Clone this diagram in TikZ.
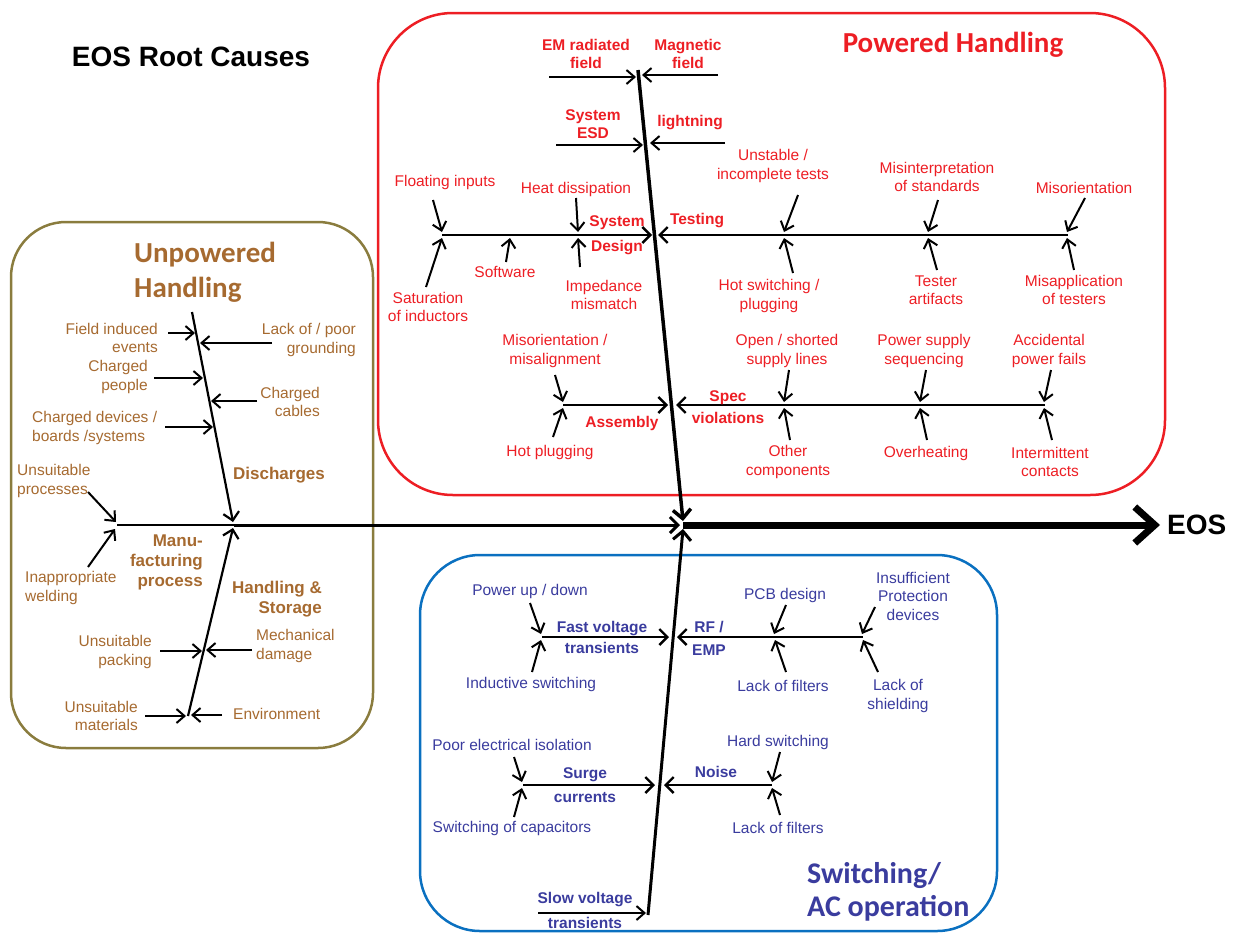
\documentclass[tikz,border=0pt]{standalone}
\usepackage{fontspec}
\setmainfont{Liberation Sans}
\newfontfamily\titlefont{Carlito}
\usetikzlibrary{arrows.meta}
\definecolor{brn}{RGB}{166,106,48}
\definecolor{olv}{RGB}{138,124,62}
\definecolor{rd}{RGB}{237,30,36}
\definecolor{bltx}{RGB}{58,60,158}
\definecolor{blbx}{RGB}{10,112,192}
\tikzset{
  ar/.style={line width=2pt,-{Straight Barb[length=8pt,width=14pt]}},
  hl/.style={line width=2.4pt,-{Straight Barb[length=8pt,width=16pt]}},
  t/.style={inner sep=0pt,align=center,font=\fontsize{15.5}{18.5}\selectfont},
  tb/.style={inner sep=0pt,align=center,font=\bfseries\fontsize{15.5}{18.5}\selectfont},
  tbb/.style={inner sep=0pt,align=center,font=\bfseries\fontsize{17}{20}\selectfont},
  ttl/.style={inner sep=0pt,align=center,font=\titlefont\bfseries\fontsize{29}{35}\selectfont},
  boxline/.style={line width=2.5pt},
}
\begin{document}
\begin{tikzpicture}[x=1pt,y=-1pt]
\useasboundingbox (0,0) rectangle (1242,935);
% ---------- boxes ----------
\draw[boxline,olv,rounded corners=55pt] (11,222) rectangle (373,748);
\draw[boxline,rd,rounded corners=75pt] (378,13) rectangle (1165,495);
\draw[boxline,blbx,rounded corners=60pt] (420,555) rectangle (997,931);
% ---------- titles ----------
\node[inner sep=0pt,font=\bfseries\fontsize{28}{32}\selectfont] (title) at (191,57) {EOS Root Causes};
\node[ttl,text=brn,align=left,anchor=west] (tunp) at (134,272) {Unpowered\\Handling};
\node[ttl,text=rd] (tpow) at (953,45) {Powered Handling};
\node[ttl,text=bltx,align=left,anchor=west,font=\titlefont\bfseries\fontsize{30}{33}\selectfont] (tsw) at (807,892) {Switching/\\AC operation};
\node[inner sep=0pt,font=\bfseries\fontsize{28}{32}\selectfont,anchor=west] (eos) at (1167,525) {EOS};
% ---------- main spine ----------
\coordinate (mst) at (117,525);
\coordinate (j1) at (234,525);
\coordinate (j2a) at (680,525);
\coordinate (j2) at (683,525);
\coordinate (eosE) at (1160,525);
\draw[line width=2pt] (mst) -- (j1);
\draw[line width=3pt,-{Straight Barb[length=8pt,width=16pt]}] (j1) -- (j2a);
\draw[line width=7pt,-{Straight Barb[length=20pt,width=36pt]}] (j2) -- (eosE);
% ---------- unpowered: spines ----------
\coordinate (D0) at (192,312); \coordinate (DT) at (233,522);
\coordinate (H0) at (188,716); \coordinate (HT) at (233,528);
\draw[line width=2.2pt,-{Straight Barb[length=8pt,width=16pt]}] (D0) -- (DT);
\draw[line width=2.2pt,-{Straight Barb[length=8pt,width=16pt]}] (H0) -- (HT);
% unpowered labels
\node[t,text=brn,anchor=east,align=right] (lfie) at (158,338) {Field induced\\events};
\node[t,text=brn,anchor=east,align=right] (llac) at (356,340) {Lack of / poor\\grounding};
\node[t,text=brn,anchor=east,align=right] (lchp) at (148,377) {Charged\\people};
\node[t,text=brn,anchor=east,align=right] (lchc) at (320,402) {Charged\\cables};
\node[t,text=brn,anchor=west,align=left] (lchd) at (32,428) {Charged devices /\\boards /systems};
\node[tbb,text=brn,anchor=west] (ldis) at (233,475) {Discharges};
\node[t,text=brn,anchor=west,align=left] (lunpr) at (17,481) {Unsuitable\\processes};
\node[t,text=brn,anchor=west,align=left] (linw) at (25,588) {Inappropriate\\welding};
\node[tbb,text=brn,anchor=east,align=right] (lman) at (203,562) {Manu-\\facturing\\process};
\node[tbb,text=brn,anchor=east,align=right] (lhas) at (322,599) {Handling \&\\Storage};
\node[t,text=brn,anchor=east,align=right] (lunpa) at (152,652) {Unsuitable\\packing};
\node[t,text=brn,anchor=west,align=left] (lmec) at (256,646) {Mechanical\\damage};
\node[t,text=brn,anchor=east,align=right] (lunma) at (138,716) {Unsuitable\\materials};
\node[t,text=brn,anchor=west] (lenv) at (233,714) {Environment};
% unpowered arrows
\coordinate (a1s) at (168,333); \coordinate (a1e) at (195,333);
\coordinate (a2s) at (272,343); \coordinate (a2e) at (200,343);
\coordinate (a3s) at (154,378); \coordinate (a3e) at (203,378);
\coordinate (a4s) at (257,401); \coordinate (a4e) at (211,401);
\coordinate (a5s) at (165,427); \coordinate (a5e) at (213,427);
\coordinate (a6s) at (88,492);  \coordinate (a6e) at (116,522);
\coordinate (a7s) at (88,567);  \coordinate (a7e) at (115,529);
\coordinate (a8s) at (160,651); \coordinate (a8e) at (202,651);
\coordinate (a9s) at (252,650); \coordinate (a9e) at (206,650);
\coordinate (a10s) at (145,716); \coordinate (a10e) at (186,716);
\coordinate (a11s) at (222,715); \coordinate (a11e) at (191,715);
\foreach \i in {1,...,11} {\draw[ar] (a\i s) -- (a\i e);}
% ---------- powered ----------
\coordinate (P0) at (638,70); \coordinate (PT) at (683,521);
\draw[line width=3.5pt,-{Straight Barb[length=9pt,width=18pt]}] (P0) -- (PT);
% sub-lines
\coordinate (sd0) at (442,235); \coordinate (sd1) at (652,235);
\coordinate (te0) at (1068,235); \coordinate (te1) at (658,235);
\coordinate (as0) at (563,405); \coordinate (as1) at (668,405);
\coordinate (sv0) at (1045,405); \coordinate (sv1) at (676,405);
\draw[hl] (sd0) -- (sd1);
\draw[hl] (te0) -- (te1);
\draw[hl] (as0) -- (as1);
\draw[hl] (sv0) -- (sv1);
% powered arrows
\coordinate (b1s) at (549,77);  \coordinate (b1e) at (636,77);
\coordinate (b2s) at (718,75);  \coordinate (b2e) at (642,75);
\coordinate (b3s) at (556,145); \coordinate (b3e) at (643,145);
\coordinate (b4s) at (725,143); \coordinate (b4e) at (650,143);
\coordinate (b5s) at (433,200); \coordinate (b5e) at (442,232);
\coordinate (b6s) at (426,287); \coordinate (b6e) at (442,238);
\coordinate (b7s) at (506,262); \coordinate (b7e) at (510,238);
\coordinate (b8s) at (576,198); \coordinate (b8e) at (578,232);
\coordinate (b9s) at (580,267); \coordinate (b9e) at (578,238);
\coordinate (b10s) at (798,195); \coordinate (b10e) at (784,232);
\coordinate (b11s) at (793,273); \coordinate (b11e) at (784,238);
\coordinate (b12s) at (938,200); \coordinate (b12e) at (928,232);
\coordinate (b13s) at (937,270); \coordinate (b13e) at (928,238);
\coordinate (b14s) at (1085,198); \coordinate (b14e) at (1067,232);
\coordinate (b15s) at (1074,270); \coordinate (b15e) at (1067,238);
\coordinate (b16s) at (555,375); \coordinate (b16e) at (563,402);
\coordinate (b17s) at (553,437); \coordinate (b17e) at (563,408);
\coordinate (b18s) at (789,370); \coordinate (b18e) at (784,402);
\coordinate (b19s) at (790,440); \coordinate (b19e) at (784,408);
\coordinate (b20s) at (926,370); \coordinate (b20e) at (920,402);
\coordinate (b21s) at (927,440); \coordinate (b21e) at (920,408);
\coordinate (b22s) at (1051,370); \coordinate (b22e) at (1044,402);
\coordinate (b23s) at (1052,440); \coordinate (b23e) at (1044,408);
\foreach \i in {1,...,23} {\draw[ar] (b\i s) -- (b\i e);}
% powered labels
\node[tb,text=rd] (lem) at (586,54) {EM radiated\\field};
\node[tb,text=rd] (lmag) at (688,54) {Magnetic\\field};
\node[tb,text=rd] (lesd) at (593,124) {System\\ESD};
\node[tb,text=rd] (llig) at (690,123) {lightning};
\node[tb,text=rd,font=\bfseries\fontsize{15.5}{25}\selectfont] (lsd) at (617,235) {System\\Design};
\node[tb,text=rd] (ltes) at (697,221) {Testing};
\node[tb,text=rd] (lass) at (622,423) {Assembly};
\node[tb,text=rd,font=\bfseries\fontsize{15.5}{22}\selectfont] (lspv) at (728,407) {Spec\\violations};
\node[t,text=rd] (lflo) at (445,182) {Floating inputs};
\node[t,text=rd] (lhea) at (576,189) {Heat dissipation};
\node[t,text=rd] (lsof) at (505,272) {Software};
\node[t,text=rd] (lsat) at (428,307) {Saturation\\of inductors};
\node[t,text=rd] (limp) at (604,295) {Impedance\\mismatch};
\node[t,text=rd] (luns) at (773,166) {Unstable /\\incomplete tests};
\node[t,text=rd] (lhot) at (769,296) {Hot switching /\\plugging};
\node[t,text=rd] (lmis) at (937,177) {Misinterpretation\\of standards};
\node[t,text=rd] (ltar) at (936,290) {Tester\\artifacts};
\node[t,text=rd] (lmor) at (1084,188) {Misorientation};
\node[t,text=rd] (lmap) at (1074,290) {Misapplication\\of testers};
\node[t,text=rd] (lmma) at (555,351) {Misorientation /\\misalignment};
\node[t,text=rd] (lhpl) at (550,452) {Hot plugging};
\node[t,text=rd] (lops) at (787,351) {Open / shorted\\supply lines};
\node[t,text=rd] (loth) at (788,462) {Other\\components};
\node[t,text=rd] (lpss) at (924,351) {Power supply\\sequencing};
\node[t,text=rd] (lovh) at (926,453) {Overheating};
\node[t,text=rd] (lacc) at (1049,351) {Accidental\\power fails};
\node[t,text=rd] (lint) at (1050,462) {Intermittent\\contacts};
% ---------- switching ----------
\coordinate (S0) at (648,915); \coordinate (ST) at (683,529);
\draw[line width=3pt,-{Straight Barb[length=9pt,width=18pt]}] (S0) -- (ST);
\coordinate (fv0) at (542,637); \coordinate (fv1) at (669,637);
\coordinate (rf0) at (863,637); \coordinate (rf1) at (677,637);
\coordinate (sc0) at (523,785); \coordinate (sc1) at (655,785);
\coordinate (no0) at (772,785); \coordinate (no1) at (664,785);
\draw[hl] (fv0) -- (fv1);
\draw[hl] (rf0) -- (rf1);
\draw[hl] (sc0) -- (sc1);
\draw[hl] (no0) -- (no1);
\coordinate (c1s) at (530,603); \coordinate (c1e) at (541,634);
\coordinate (c2s) at (532,672); \coordinate (c2e) at (541,640);
\coordinate (c3s) at (786,605); \coordinate (c3e) at (774,634);
\coordinate (c4s) at (786,672); \coordinate (c4e) at (775,640);
\coordinate (c5s) at (875,607); \coordinate (c5e) at (862,634);
\coordinate (c6s) at (878,672); \coordinate (c6e) at (863,640);
\coordinate (c7s) at (514,757); \coordinate (c7e) at (522,782);
\coordinate (c8s) at (514,817); \coordinate (c8e) at (522,788);
\coordinate (c9s) at (780,752); \coordinate (c9e) at (772,782);
\coordinate (c10s) at (780,815); \coordinate (c10e) at (772,788);
\coordinate (c11s) at (538,913); \coordinate (c11e) at (646,913);
\foreach \i in {1,...,11} {\draw[ar] (c\i s) -- (c\i e);}
% switching labels
\node[tb,text=bltx,font=\bfseries\fontsize{15.5}{21}\selectfont] (lfvt) at (602,637) {Fast voltage\\transients};
\node[tb,text=bltx,font=\bfseries\fontsize{15.5}{23}\selectfont] (lrf) at (709,638) {RF /\\EMP};
\node[tb,text=bltx,font=\bfseries\fontsize{15.5}{24}\selectfont] (lsur) at (585,785) {Surge\\currents};
\node[tb,text=bltx] (lnoi) at (716,772) {Noise};
\node[tb,text=bltx,font=\bfseries\fontsize{15.5}{25}\selectfont] (lsvt) at (585,910) {Slow voltage\\transients};
\node[t,text=bltx] (lpud) at (530,591) {Power up / down};
\node[t,text=bltx] (lind) at (531,684) {Inductive switching};
\node[t,text=bltx] (lpcb) at (785,595) {PCB design};
\node[t,text=bltx] (llf1) at (783,686) {Lack of filters};
\node[t,text=bltx] (lipd) at (913,596) {Insufficient\\Protection\\devices};
\node[t,text=bltx] (llsh) at (898,696) {Lack of\\shielding};
\node[t,text=bltx] (lpei) at (512,745) {Poor electrical isolation};
\node[t,text=bltx] (lsoc) at (512,828) {Switching of capacitors};
\node[t,text=bltx] (lhsw) at (778,742) {Hard switching};
\node[t,text=bltx] (llf2) at (778,828) {Lack of filters};
\end{tikzpicture}
\end{document}
